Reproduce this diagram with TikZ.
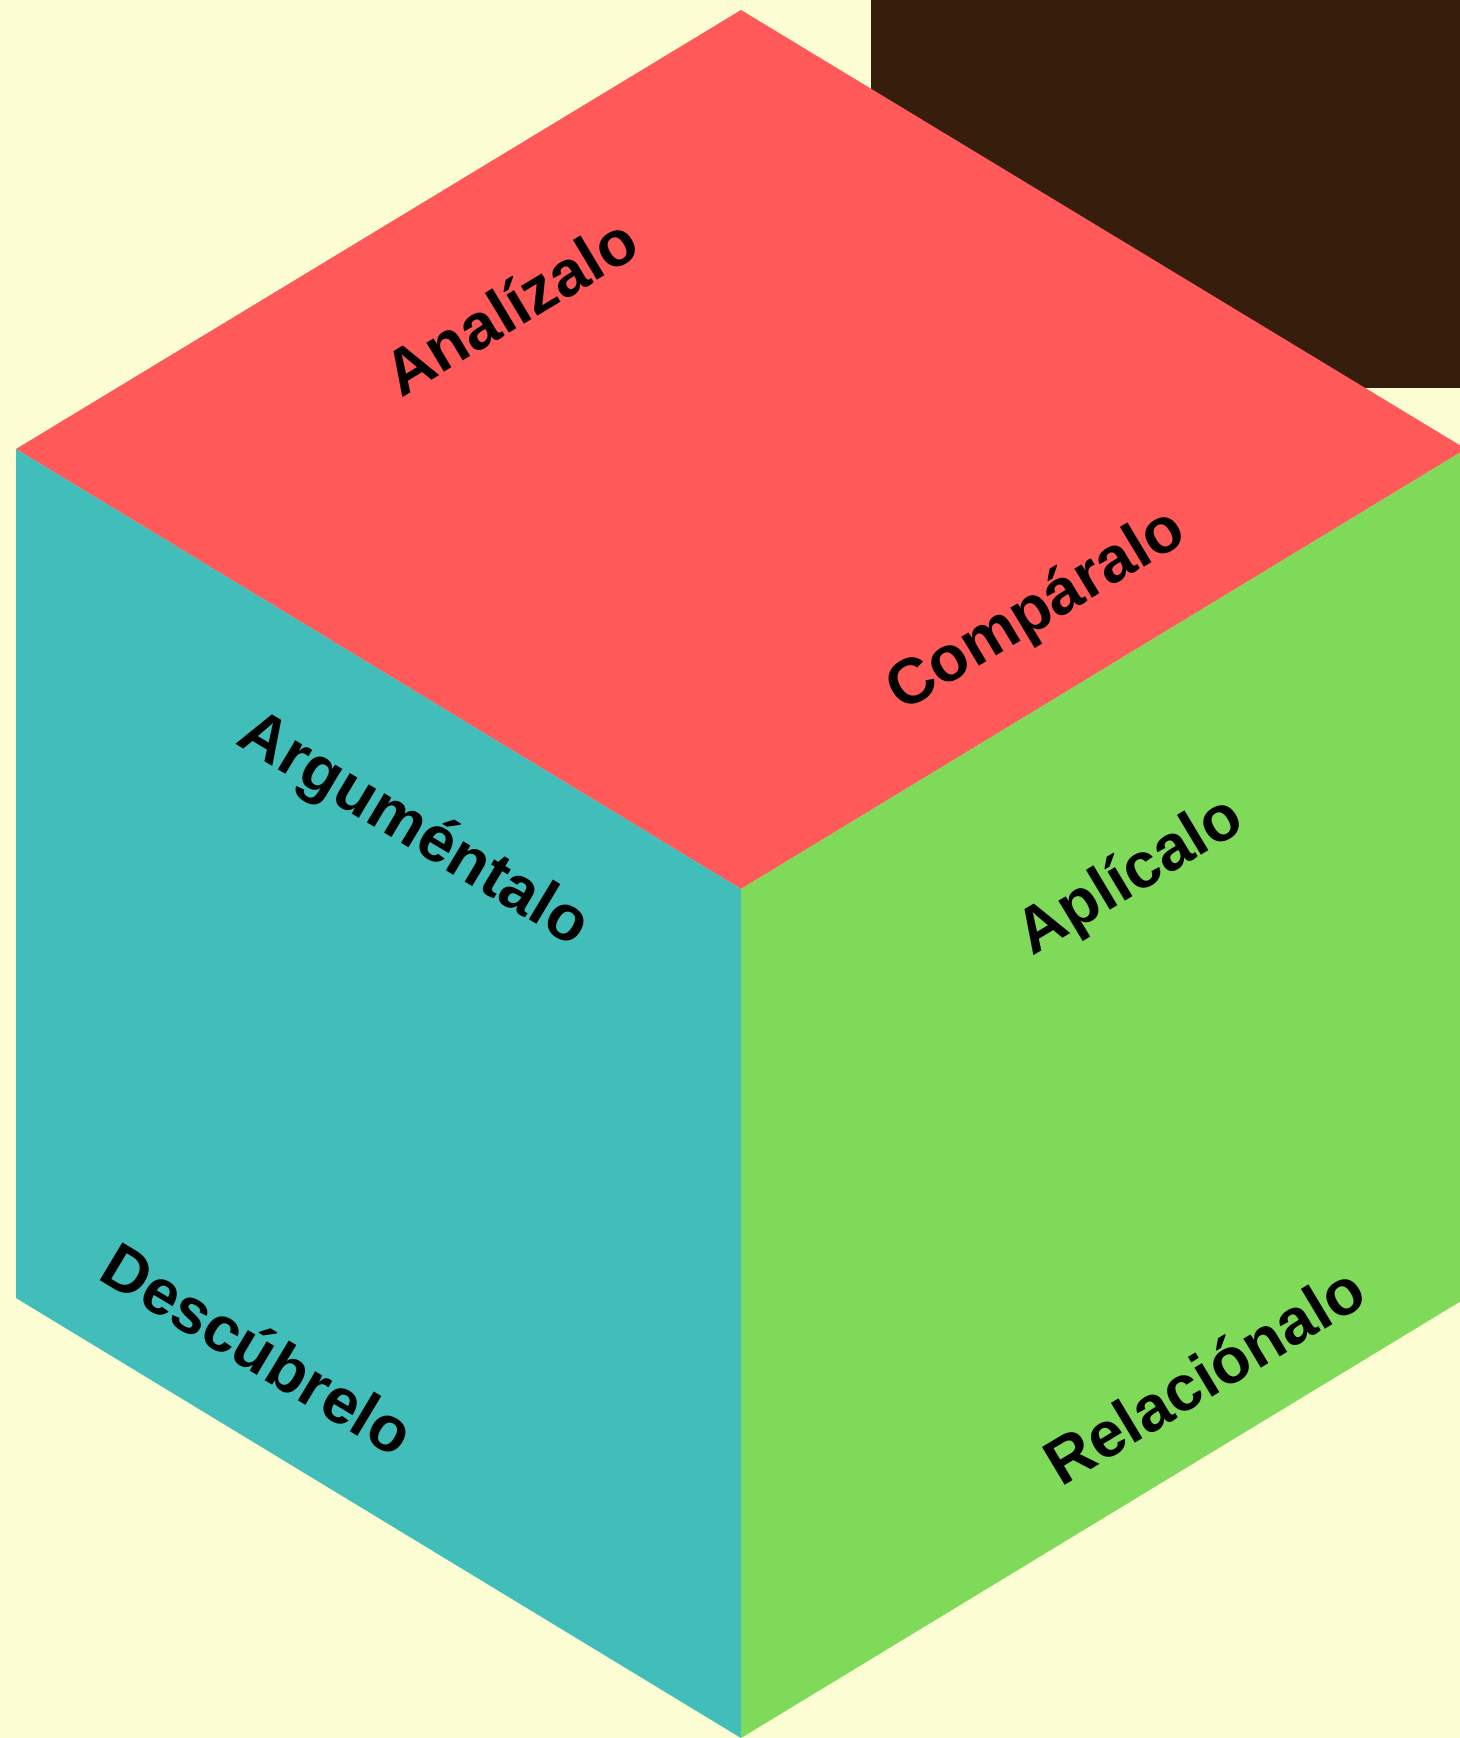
\documentclass[tikz,border=0pt]{standalone}
\usepackage{fontspec}
\setmainfont{Liberation Sans}
\usepackage{xcolor}
\usetikzlibrary{positioning, calc}

\definecolor{bgyellow}{RGB}{252,253,210}
\definecolor{topred}{RGB}{255,89,89}
\definecolor{leftteal}{RGB}{65,190,186}
\definecolor{rightgreen}{RGB}{128,218,90}
\definecolor{darkbrown}{RGB}{54,29,12}

\begin{document}
\begin{tikzpicture}[
        x=0.02cm, y=-0.02cm,
        every node/.style={inner sep=0pt, font=\bfseries\fontsize{36.5}{42}\selectfont},
        face/.style={draw=none}
        ]

        % Background
        \fill[bgyellow] (0,0) rectangle (1460,1738);
        \useasboundingbox (0,0) rectangle (1460,1738);
        \clip (0,0) rectangle (1460,1738);
        \fill[darkbrown] (871,0) rectangle (1460,388);

        % Corners
        \coordinate (top) at (741,10);
        \coordinate (lt) at (16,449);
        \coordinate (rt) at (1466,449);
        \coordinate (mid) at (741,889);
        \coordinate (lb) at (16,1298);
        \coordinate (rb) at (1466,1298);
        \coordinate (bot) at (741,1738);

        % Faces
        \fill[face, topred] (top) -- (rt) -- (mid) -- (lt) -- cycle;
        \fill[face, leftteal] (lt) -- (mid) -- (bot) -- (lb) -- cycle;
        \fill[face, rightgreen] (mid) -- (rt) -- (rb) -- (bot) -- cycle;

        % Nodes
        \node[rotate=31] (analiza) at (510,306) {Analízalo};
        \node[rotate=31] (compara) at (1037,612) {Compáralo};
        \node[rotate=-31] (argumenta) at (413,831) {Arguméntalo};
        \node[rotate=-31] (descubre) at (258,1349) {Descúbrelo};
        \node[rotate=31] (aplica) at (1131,878) {Aplícalo};
        \node[rotate=31] (relaciona) at (1204,1375) {Relaciónalo};

        \end{tikzpicture}
\end{document}
